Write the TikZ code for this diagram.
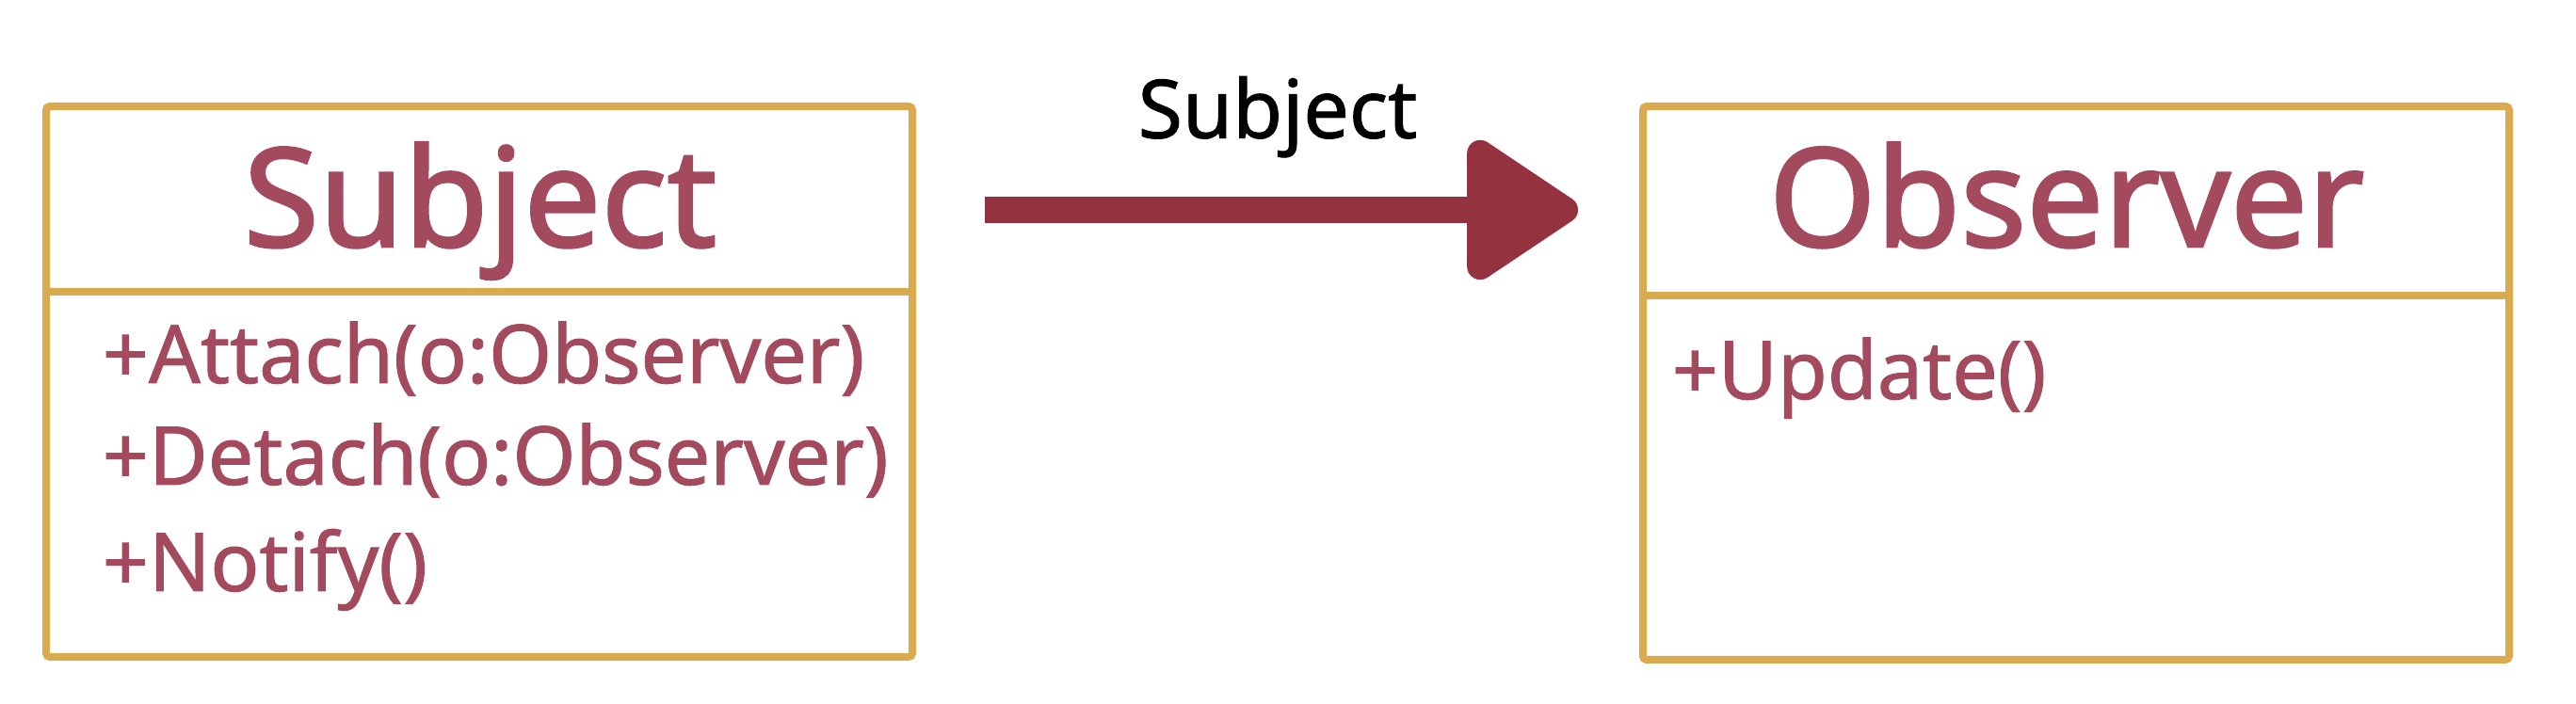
\documentclass[tikz,border=0pt]{standalone}
\usepackage{fontspec}
\setmainfont{Noto Sans}
\newfontfamily\titlefont{Noto Sans}[FakeBold=1.8]
\newfontfamily\memberfont{Noto Sans}[FakeBold=1.1]
\usetikzlibrary{arrows.meta}
\usetikzlibrary{positioning}

\definecolor{boxgold}{RGB}{217,170,78}
\definecolor{classred}{RGB}{163,74,94}
\definecolor{arrowred}{RGB}{148,50,64}

\tikzset{
  classbox/.style={draw=boxgold, line width=0.08cm, rounded corners=0.04cm,
    minimum width=9.2cm, inner sep=0pt},
  classname/.style={text=classred, font=\titlefont\fontsize{41.5}{49}\selectfont, inner sep=0pt},
  member/.style={text=classred, font=\memberfont\fontsize{24.5}{30}\selectfont, inner sep=0pt},
}

\begin{document}
\begin{tikzpicture}
  \useasboundingbox (0,0) rectangle (27.36,7.48);

  % Draw the two class boxes
  \node[classbox, minimum height=5.85cm] (subj) at (5.09,3.425) {};
  \node[classbox, minimum height=5.88cm] (obs) at (22.05,3.41) {};

  % Draw the lines under the class names
  \draw[boxgold, line width=0.08cm] ([yshift=-2.01cm]subj.north west) -- ([yshift=-2.01cm]subj.north east);
  \draw[boxgold, line width=0.08cm] ([yshift=-2.05cm]obs.north west) -- ([yshift=-2.05cm]obs.north east);

  % Class names
  \node[classname, anchor=base] (subjname) at (5.1,4.86) {Subject};
  \node[classname, anchor=base] (obsname) at (21.95,4.86) {Observer};

  % Operations of the subject
  \node[member, anchor=base west] (attach) at (1.08,3.41) {+Attach(o:Observer)};
  \node[member, anchor=base west] (detach) at ([yshift=-1.08cm]attach.base west) {+Detach(o:Observer)};
  \node[member, anchor=base west] (notify) at ([yshift=-1.13cm]detach.base west) {+Notify()};

  % Operation of the observer
  \node[member, anchor=base west] (update) at (17.75,3.24) {+Update()};

  % Draw the arrow between the boxes
  \draw[arrowred, line width=0.28cm, -{Triangle[length=1.3cm, width=1.65cm, round]},
    shorten <=0.73cm, shorten >=0.65cm] (subj.east |- 0,5.25) -- (obs.west |- 0,5.25)
    node[midway, above=0.3cm, text=black, font=\memberfont\fontsize{24.5}{30}\selectfont] (arrowlabel) {Subject};
\end{tikzpicture}
\end{document}
